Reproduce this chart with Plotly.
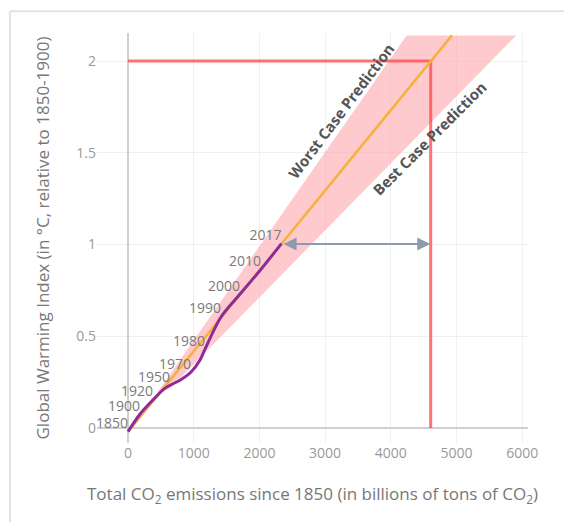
import plotly.graph_objects as go

# Historical observations (year, cumulative CO2 emissions in Gt, warming in °C)
years = [1850, 1900, 1920, 1940, 1950, 1960, 1970, 1975, 1980, 1990, 2000, 2010, 2017]
year_labels = ["1850", "1900", "1920", "", "1950", "", "1970", "", "1980", "1990", "2000", "2010", "2017"]
hist_emissions = [0, 183, 380, 545, 640, 791, 960, 1096, 1172, 1415, 1705, 2024, 2335]
hist_warming = [-0.02, 0.076, 0.153, 0.212, 0.233, 0.26, 0.305, 0.37, 0.43, 0.605, 0.73, 0.865, 1.005]

# Central projection (straight line)
proj_emissions = [0, 4930]
proj_warming = [-0.02, 2.14]

# Uncertainty band polygon (worst case edge, then best case edge)
band_emissions = [430, 4240, 5910, 640]
band_warming = [0.185, 2.14, 2.14, 0.215]

# 2 °C budget markers
limit_emissions = [0, 4607, 4607]
limit_warming = [2.0, 2.0, 0.0]

# Remaining budget arrow
arrow_from = (2345, 1.003)
arrow_to = (4600, 1.003)

fig = go.Figure()

fig.add_trace(go.Scatter(
    x=band_emissions + [band_emissions[0]], y=band_warming + [band_warming[0]],
    fill="toself", fillcolor="rgba(255,170,175,0.62)", line=dict(width=0),
    mode="lines", hoverinfo="skip", showlegend=False))

fig.add_trace(go.Scatter(
    x=limit_emissions, y=limit_warming, mode="lines",
    line=dict(color="rgba(255,75,75,0.78)", width=3), showlegend=False))

fig.add_trace(go.Scatter(
    x=proj_emissions, y=proj_warming, mode="lines",
    line=dict(color="#f4b23c", width=2.5), showlegend=False))

fig.add_trace(go.Scatter(
    x=hist_emissions, y=hist_warming, mode="lines+text",
    text=year_labels, textposition="top left",
    textfont=dict(family="Open Sans", size=14, color="#7a7a7a"),
    line=dict(color="#8e2a9a", width=3, shape="spline", smoothing=0.8),
    showlegend=False))

fig.add_annotation(
    x=arrow_to[0], y=arrow_to[1], ax=arrow_from[0], ay=arrow_from[1],
    xref="x", yref="y", axref="x", ayref="y", text="",
    showarrow=True, arrowhead=2, startarrowhead=2, arrowside="end+start",
    arrowsize=1.3, startarrowsize=1.3, arrowwidth=2, arrowcolor="#8c9cae")

fig.add_annotation(
    x=3240, y=1.727, xref="x", yref="y", text="<b>Worst Case Prediction</b>",
    showarrow=False, textangle=-53,
    font=dict(family="Open Sans", size=15, color="#555555"))
fig.add_annotation(
    x=4590, y=1.58, xref="x", yref="y", text="<b>Best Case Prediction</b>",
    showarrow=False, textangle=-45,
    font=dict(family="Open Sans", size=15, color="#555555"))

# light frame around the card
fig.add_shape(type="line", xref="paper", yref="paper",
              x0=-0.202, x1=-0.202, y0=1.053, y1=-0.3,
              line=dict(color="#dfe2e8", width=2))
fig.add_shape(type="line", xref="paper", yref="paper",
              x0=-0.202, x1=1.2, y0=1.053, y1=1.053,
              line=dict(color="#dfe2e8", width=2))

fig.update_layout(
    width=572, height=522,
    margin=dict(l=89, r=52, t=25, b=87),
    paper_bgcolor="white", plot_bgcolor="white",
    font=dict(family="Open Sans", color="#8a8a8a"),
    xaxis=dict(
        range=[-472, 6088], dtick=1000, tick0=0,
        showgrid=True, gridcolor="#f0f0f0", gridwidth=1,
        zeroline=True, zerolinecolor="#cfcfcf", zerolinewidth=2,
        tickfont=dict(size=14, color="#9a9a9a"),
        title=dict(text="Total CO<sub>2</sub> emissions since 1850 (in billions of tons of CO<sub>2</sub>)",
                   font=dict(size=17, color="#777777"), standoff=27)),
    yaxis=dict(
        range=[-0.082, 2.153], dtick=0.5, tick0=0,
        showgrid=True, gridcolor="#f0f0f0", gridwidth=1,
        zeroline=True, zerolinecolor="#cfcfcf", zerolinewidth=2,
        tickfont=dict(size=14, color="#9a9a9a"),
        title=dict(text="Global Warming Index (in °C, relative to 1850-1900)",
                   font=dict(size=17, color="#777777"), standoff=22)),
)

fig.write_html("out.html")
